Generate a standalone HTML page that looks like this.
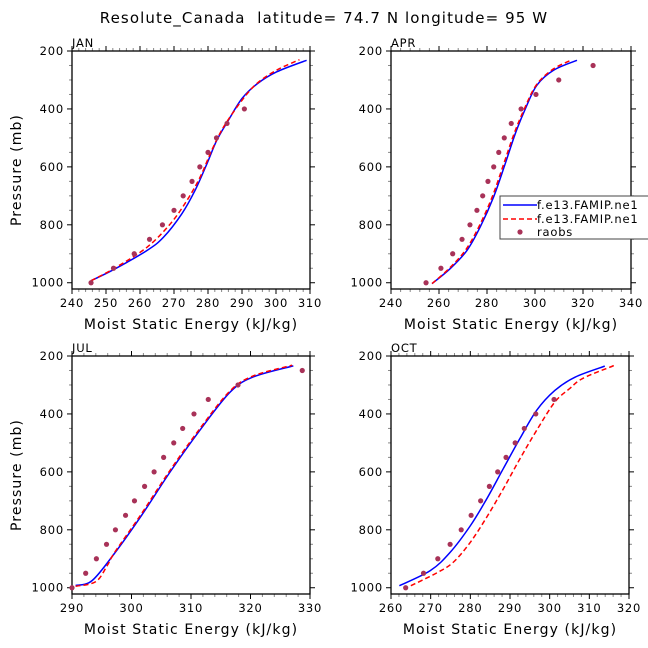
<!DOCTYPE html>
<html><head><meta charset="utf-8"><style>
body{margin:0;background:#fff}
svg{display:block;font-family:"DejaVu Sans","Liberation Sans",sans-serif}
text{white-space:pre}
</style></head><body>
<svg id="chart" width="648" height="648" viewBox="0 0 648 648">
<rect x="0" y="0" width="648" height="648" fill="#fff"/>
<text x="324" y="23" font-size="15" letter-spacing="1.1" text-anchor="middle">Resolute_Canada  latitude= 74.7 N longitude= 95 W</text>
</svg>
<script>
const months = ["JAN","APR","JUL","OCT"];
const obsLevels = [1000,950,900,850,800,750,700,650,600,550,500,450,400,350,300,250];
const obsJAN = [245.6,252.2,258.3,262.8,266.6,270.0,272.7,275.3,277.6,280.0,282.5,285.6,290.7];
const obsAPR = [254.6,260.8,265.7,269.6,272.9,275.8,278.2,280.4,282.8,284.9,287.2,290.1,294.2,300.4,309.9,324.2];
const obsJUL = [290.0,292.3,294.1,295.8,297.3,299.0,300.5,302.2,303.8,305.4,307.1,308.6,310.5,312.9,317.9,328.7];
const obsOCT = [263.7,268.2,271.8,274.9,277.7,280.2,282.6,284.8,286.9,289.0,291.3,293.6,296.5,301.1];
const blueJAN_x = [245.6,252.2,262,266.9,272.3,276.2,279.7,282.6,286,290,294.4,300.2,309];
const blueJAN_p = [993,955,889,843,762,681,589,508,439,364,314,272,232];
const redJAN_x = [245.6,252.5,262,268.9,273.8,277.7,281.1,284.6,290,294.4,300.2,306.9];
const redJAN_p = [993,950,878,797,716,635,543,462,370,312,266,230];
const blueAPR_x = [257.1,264.7,271.7,277.2,282.8,287.6,291.8,296,300.8,307.8,317.5];
const blueAPR_p = [1003,951,888,807,703,589,485,399,318,266,232];
const redAPR_x = [257.1,264.2,271.0,276.6,282.2,287.0,291.3,295.6,300.5,307.3,315.4];
const redAPR_p = [1003,951,888,807,703,589,485,399,318,264,230];
const blueJUL_x = [290.6,293.4,297.3,301.7,306.5,311.5,316.6,320.5,327.2];
const blueJUL_p = [992,975,877,750,600,456,324,272,234];
const redJUL_x = [290.6,294,295.9,297.2,301.5,306.3,311.3,316.4,320.3,327.0];
const redJUL_p = [995,979,924,877,750,600,456,324,270,232];
const blueOCT_x = [262.1,269.9,274.9,280,284.1,288.3,292.5,296.7,301.3,306.4,313.9];
const blueOCT_p = [993,941,878,786,694,589,485,388,319,273,235];
const redOCT_x = [265,271.5,275.7,280,284.1,288.3,292.5,296.7,301.3,305,308.4,316.2];
const redOCT_p = [993,949,912,843,757,659,555,457,359,313,277,233];
const xTicksJAN = [240,250,260,270,280,290,300,310];
const xTicksAPR = [240,260,280,300,320,340];
const xTicksJUL = [290,300,310,320,330];
const xTicksOCT = [260,270,280,290,300,310,320];
const yTicks = [200,400,600,800,1000];

const svg = document.getElementById('chart');
const NS = 'http://www.w3.org/2000/svg';
function mk(tag, attrs, parent){const e=document.createElementNS(NS,tag);for(const k in attrs)e.setAttribute(k,attrs[k]);(parent||svg).appendChild(e);return e;}
function smooth(pts){
  let d='M'+pts[0][0]+','+pts[0][1];
  for(let i=0;i<pts.length-1;i++){
    const p0=pts[Math.max(0,i-1)],p1=pts[i],p2=pts[i+1],p3=pts[Math.min(pts.length-1,i+2)];
    const c1=[p1[0]+(p2[0]-p0[0])/6,p1[1]+(p2[1]-p0[1])/6];
    const c2=[p2[0]-(p3[0]-p1[0])/6,p2[1]-(p3[1]-p1[1])/6];
    d+=' C'+c1[0]+','+c1[1]+' '+c2[0]+','+c2[1]+' '+p2[0]+','+p2[1];
  }
  return d;
}

const panels = [
 {m:"JAN",L:72,R:310,T:51,B:289,xmin:240,xmax:310,ticks:xTicksJAN,minor:2,obs:obsJAN,bx:blueJAN_x,bp:blueJAN_p,rx:redJAN_x,rp:redJAN_p,left:true},
 {m:"APR",L:391,R:631,T:51,B:289,xmin:240,xmax:340,ticks:xTicksAPR,minor:4,obs:obsAPR,bx:blueAPR_x,bp:blueAPR_p,rx:redAPR_x,rp:redAPR_p,left:false},
 {m:"JUL",L:72,R:310,T:356,B:594,xmin:290,xmax:330,ticks:xTicksJUL,minor:2,obs:obsJUL,bx:blueJUL_x,bp:blueJUL_p,rx:redJUL_x,rp:redJUL_p,left:true},
 {m:"OCT",L:391,R:629,T:356,B:594,xmin:260,xmax:320,ticks:xTicksOCT,minor:2,obs:obsOCT,bx:blueOCT_x,bp:blueOCT_p,rx:redOCT_x,rp:redOCT_p,left:false}
];
const pmin=200, pmax=1021.6;
panels.forEach(P=>{
  const g = mk('g',{});
  
  
  const sx = v => P.L + (v-P.xmin)/(P.xmax-P.xmin)*(P.R-P.L);
  const sy = p => P.T + (p-pmin)/(pmax-pmin)*(P.B-P.T);
  const clip = mk('clipPath',{id:'clip'+P.m},g);
  mk('rect',{x:P.L,y:P.T,width:P.R-P.L,height:P.B-P.T},clip);
  for(let v=P.xmin; v<=P.xmax+1e-6; v+=P.minor){
    const x=sx(v); const major=P.ticks.includes(Math.round(v));
    const len=major?5:3, col=major?'#000':'#888';
    mk('line',{x1:x,y1:P.B,x2:x,y2:P.B+len,stroke:col,'stroke-width':1},g);
    mk('line',{x1:x,y1:P.T,x2:x,y2:P.T-len,stroke:col,'stroke-width':1},g);
  }
  for(let p=200;p<=1000;p+=50){
    const y=sy(p); const major=p%200===0;
    const len=major?5:3, col=major?'#000':'#888';
    mk('line',{x1:P.L,y1:y,x2:P.L-len,y2:y,stroke:col,'stroke-width':1},g);
    mk('line',{x1:P.R,y1:y,x2:P.R+len,y2:y,stroke:col,'stroke-width':1},g);
  }
  mk('rect',{x:P.L,y:P.T,width:P.R-P.L,height:P.B-P.T,fill:'none',stroke:'#000','stroke-width':1.3},g);
  P.ticks.forEach(v=>{
    const t=mk('text',{x:sx(v),y:P.B+18,'font-size':11.5,'letter-spacing':0.8,'text-anchor':'middle'},g);
    
    
    t.textContent=v;
  });
  yTicks.forEach(p=>{
    const t=mk('text',{x:P.L-8,y:sy(p)+4,'font-size':11.5,'letter-spacing':0.8,'text-anchor':'end'},g);
    
    
    t.textContent=p;
  });
  const lab=mk('text',{x:P.L,y:P.T-4,'font-size':11.5,'letter-spacing':0.8},g);
  
  
  lab.textContent=P.m;
  const xt=mk('text',{x:(P.L+P.R)/2,y:P.B+40,'font-size':14,'letter-spacing':1.1,'text-anchor':'middle'},g);
  
  
  xt.textContent='Moist Static Energy (kJ/kg)';
  if(P.left){
    const yt=mk('text',{x:0,y:0,'font-size':14,'letter-spacing':1.1,'text-anchor':'middle',transform:`translate(21,${(P.T+P.B)/2}) rotate(-90)`},g);
    
    
    yt.textContent='Pressure (mb)';
  }
  const cg=mk('g',{'clip-path':`url(#clip${P.m})`},g);
  const bl=mk('path',{d:smooth(P.bx.map((v,i)=>[sx(v),sy(P.bp[i])])),fill:'none',stroke:'#0000ff','stroke-width':1.5},cg);
  
  
  const rl=mk('path',{d:smooth(P.rx.map((v,i)=>[sx(v),sy(P.rp[i])])),fill:'none',stroke:'#ff0000','stroke-width':1.5,'stroke-dasharray':'5,3'},cg);
  
  
  P.obs.forEach((v,i)=>{
    const c=mk('circle',{cx:sx(v),cy:sy(obsLevels[i]),r:2.6,fill:'#a83258'},g);
    
    
  });
});
const lg=mk('g',{});


mk('rect',{x:500,y:196,width:160,height:43,fill:'#fff',stroke:'#444','stroke-width':1},lg);
mk('line',{x1:503,y1:205,x2:537,y2:205,stroke:'#0000ff','stroke-width':1.5},lg);
mk('line',{x1:503,y1:219,x2:537,y2:219,stroke:'#ff0000','stroke-width':1.5,'stroke-dasharray':'5,3'},lg);
mk('circle',{cx:520,cy:232,r:2.6,fill:'#a83258'},lg);
[['f.e13.FAMIP.ne1',209],['f.e13.FAMIP.ne1',223],['raobs',236]].forEach(([s,y])=>{
  const t=mk('text',{x:537,y:y,'font-size':11.5,'letter-spacing':0.8},lg);
  
  
  t.textContent=s;
});
</script>
</body></html>
